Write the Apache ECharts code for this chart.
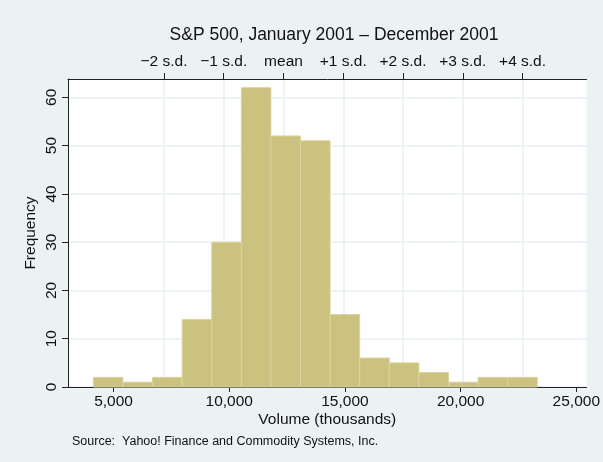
<!DOCTYPE html>
<html>
<head>
<meta charset="utf-8">
<script src="https://cdn.jsdelivr.net/npm/echarts@6/dist/echarts.min.js"></script>
<style>
html,body{margin:0;padding:0;background:#EAF2F3;}
#chart{width:603px;height:462px;}
</style>
</head>
<body>
<div id="chart"></div>
<script>
// Histogram bin edges (volume, thousands) and frequencies
const binEdges = [4128, 5407, 6686, 7965, 9244, 10523, 11802, 13081, 14360, 15639, 16918, 18197, 19476, 20755, 22034, 23313];
const frequencies = [2, 1, 2, 14, 30, 62, 52, 51, 15, 6, 5, 3, 1, 2, 2];

// Bottom axis tick values
const volumeTicks = [5000, 10000, 15000, 20000, 25000];
// Frequency ticks
const freqTicks = [0, 10, 20, 30, 40, 50, 60];
// Top axis: standard-deviation markers (mean 12346, s.d. ~2583)
const sdTickValues = [7180, 9763, 12346, 14929, 17512, 20095, 22678];
const sdTickLabels = ['\u22122 s.d.', '\u22121 s.d.', 'mean', '+1 s.d.', '+2 s.d.', '+3 s.d.', '+4 s.d.'];

const xMin = 3032, xMax = 25442, yMax = 63.8;

const histData = frequencies.map((f, i) => [binEdges[i], binEdges[i + 1], f]);

const FONT = '"Liberation Sans", Arial, Helvetica, sans-serif';
const TXT = '#111';
const AX = '#222';
const GRID = '#E8F1F3';

const chart = echarts.init(document.getElementById('chart'), null, {renderer: 'canvas'});
chart.setOption({
  backgroundColor: '#EAF2F3',
  animation: false,
  title: {
    text: 'S&P 500, January 2001 \u2013 December 2001',
    left: 329, top: 21, textAlign: 'center',
    textStyle: {fontFamily: FONT, fontSize: 17.5, fontWeight: 'normal', color: TXT}
  },
  grid: {left: 68, right: 13, top: 79, bottom: 75, show: true, backgroundColor: '#fff', borderWidth: 0},
  xAxis: [{
    type: 'value', position: 'bottom', min: xMin, max: xMax,
    name: 'Volume (thousands)', nameLocation: 'middle', nameGap: 25, nameMoveOverlap: false,
    nameTextStyle: {fontFamily: FONT, fontSize: 15.5, color: TXT},
    axisLine: {show: true, lineStyle: {color: AX, width: 1}},
    axisTick: {show: true, length: 5, customValues: volumeTicks, lineStyle: {color: AX}},
    axisLabel: {customValues: volumeTicks, margin: 7, fontFamily: FONT, fontSize: 15.5, color: TXT,
      formatter: v => v.toLocaleString('en-US')},
    splitLine: {show: false}
  }, {
    type: 'value', position: 'top', min: xMin, max: xMax,
    axisLine: {show: true, lineStyle: {color: AX, width: 1}},
    axisTick: {show: true, length: 6, customValues: sdTickValues, lineStyle: {color: AX}},
    axisLabel: {customValues: sdTickValues, margin: 9, fontFamily: FONT, fontSize: 15.5, color: TXT,
      formatter: v => { const i = sdTickValues.indexOf(v); return i >= 0 ? sdTickLabels[i] : ''; }},
    splitLine: {show: true, lineStyle: {color: GRID, width: 1.5}}
  }],
  yAxis: {
    type: 'value', min: 0, max: yMax,
    name: 'Frequency', nameLocation: 'middle', nameGap: 29, nameRotate: 90, nameMoveOverlap: false,
    nameTextStyle: {fontFamily: FONT, fontSize: 15.5, color: TXT},
    axisLine: {show: true, lineStyle: {color: AX, width: 1}},
    axisTick: {show: true, length: 6, customValues: freqTicks, lineStyle: {color: AX}},
    axisLabel: {customValues: freqTicks, rotate: 90, margin: 8, fontFamily: FONT, fontSize: 15.5, color: TXT},
    splitLine: {show: true, lineStyle: {color: GRID, width: 1.5}}
  },
  series: [{
    type: 'custom',
    xAxisIndex: 0, yAxisIndex: 0,
    encode: {x: [0, 1], y: 2},
    data: histData,
    renderItem: function (params, api) {
      const p0 = api.coord([api.value(0), api.value(2)]);
      const p1 = api.coord([api.value(1), 0]);
      return {
        type: 'rect',
        shape: {x: p0[0], y: p0[1], width: p1[0] - p0[0], height: p1[1] - p0[1]},
        style: {fill: '#CAC27E', stroke: '#DAD4A2', lineWidth: 1}
      };
    }
  }],
  graphic: [{
    type: 'text', left: 72, top: 435,
    style: {text: 'Source:  Yahoo! Finance and Commodity Systems, Inc.', fontFamily: FONT, fontSize: 12.5, fill: TXT}
  }]
});
</script>
</body>
</html>
